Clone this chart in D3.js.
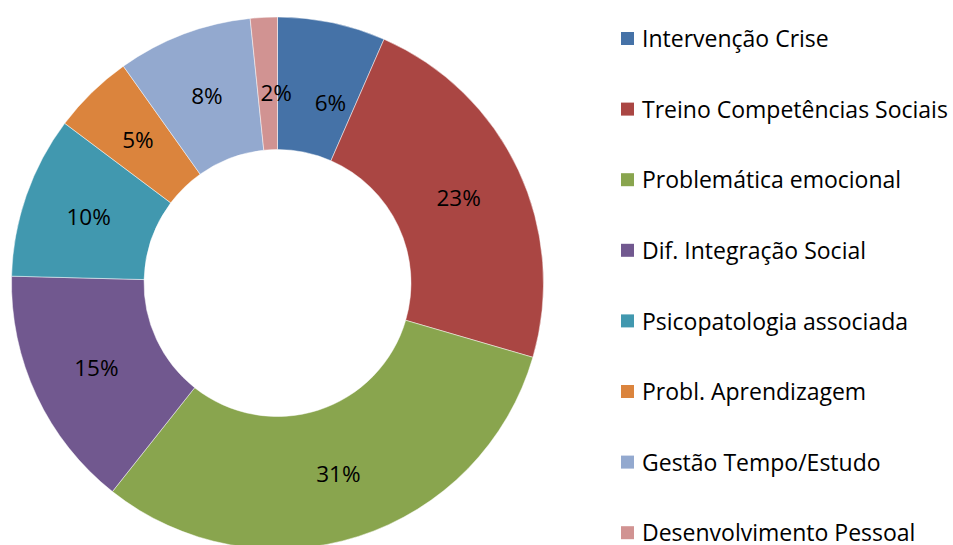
<!DOCTYPE html>
<html>
<head>
<meta charset="utf-8">
<script src="https://cdn.jsdelivr.net/npm/d3@7"></script>
<style>
  body { margin: 0; background: #fff; }
  svg text { font-family: "Open Sans", Lato, sans-serif; fill: #000; }
</style>
</head>
<body>
<div id="chart"></div>
<script>
var categories = ["Intervenção Crise", "Treino Competências Sociais", "Problemática emocional",
    "Dif. Integração Social", "Psicopatologia associada", "Probl. Aprendizagem",
    "Gestão Tempo/Estudo", "Desenvolvimento Pessoal"];
var values = [4, 14, 19, 9, 6, 3, 5, 1];
var pctLabels = ["6%", "23%", "31%", "15%", "10%", "5%", "8%", "2%"];
var colors = ["#4572A7", "#AA4643", "#89A54E", "#71588F", "#4198AF", "#DB843D", "#93A9CF", "#D19392"];

function draw_donut() {
    var width = 953, height = 545;
    var cx = 277.5, cy = 283, outer = 266, inner = 133.5;

    var svg = d3.select("#chart")
        .append("svg")
        .attr("width", width)
        .attr("height", height);

    var pie = d3.pie().sort(null).value(function(d) { return d; });
    var arc = d3.arc().innerRadius(inner).outerRadius(outer);
    var labelArc = d3.arc().innerRadius(200).outerRadius(200);

    var g = svg.append("g").attr("transform", "translate(" + cx + "," + cy + ")");
    var slices = pie(values);

    g.selectAll("path")
        .data(slices)
        .enter().append("path")
        .attr("d", arc)
        .attr("fill", function(d, i) { return colors[i]; })
        .attr("stroke", "#ffffff")
        .attr("stroke-opacity", 0.6)
        .attr("stroke-width", 0.8);

    // excel pushes the two thin top labels down a bit
    var nudge = {0: [12, 16], 7: [9, 10]};
    g.selectAll("text.pct")
        .data(slices)
        .enter().append("text")
        .attr("class", "pct")
        .attr("transform", function(d, i) {
            var c = labelArc.centroid(d), n = nudge[i] || [0, 0];
            return "translate(" + (c[0] + n[0]) + "," + (c[1] + n[1]) + ")";
        })
        .attr("text-anchor", "middle")
        .attr("dy", "0.36em")
        .style("font-size", "22.5px")
        .text(function(d, i) { return pctLabels[i]; });

    var legend = svg.append("g").attr("transform", "translate(621,39)");
    var rowH = 70.6;
    var items = legend.selectAll("g")
        .data(categories)
        .enter().append("g")
        .attr("transform", function(d, i) { return "translate(0," + (i * rowH) + ")"; });
    items.append("rect")
        .attr("x", 0).attr("y", -7).attr("width", 13).attr("height", 13)
        .attr("fill", function(d, i) { return colors[i]; });
    items.append("text")
        .attr("x", 21).attr("y", 0).attr("dy", "0.36em")
        .style("font-size", "23px")
        .text(function(d) { return d; });
}
draw_donut();
</script>
</body>
</html>
